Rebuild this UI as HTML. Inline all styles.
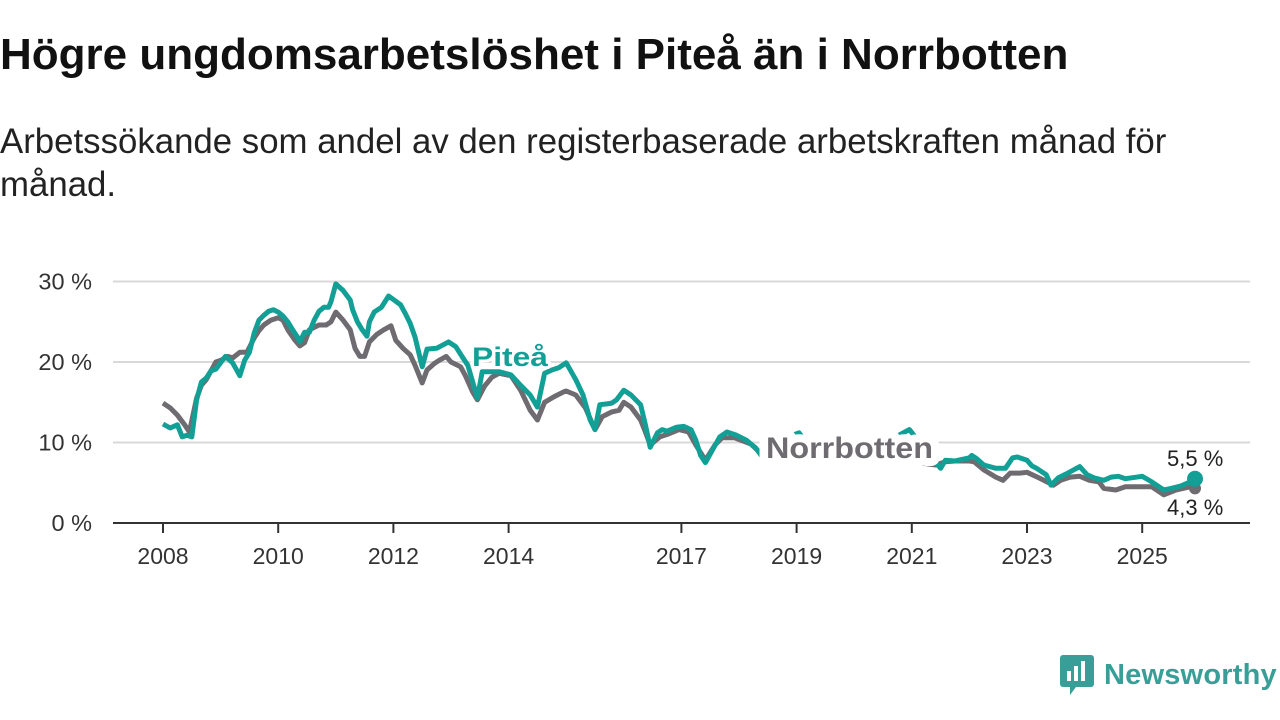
<!DOCTYPE html>
<html><head><meta charset="utf-8"><style>
body{margin:0;width:1280px;height:720px;background:#fff;font-family:"Liberation Sans",sans-serif;overflow:hidden;position:relative}
h1{position:absolute;left:0;top:30px;margin:0;font-size:44px;font-weight:bold;color:#111;white-space:nowrap}
.sub{position:absolute;left:0;top:120px;margin:0;font-size:34.8px;line-height:43px;color:#222;width:1200px}
svg{position:absolute;left:0;top:0}
</style></head><body>
<h1>Högre ungdomsarbetslöshet i Piteå än i Norrbotten</h1>
<p class="sub">Arbetssökande som andel av den registerbaserade arbetskraften månad för månad.</p>
<svg id="c" width="1280" height="720"></svg>
<div style="position:absolute;left:1060px;top:655px;height:40px;display:flex;align-items:center;color:#3a9e98;font-size:29px;font-weight:bold;letter-spacing:0.2px">
<svg width="34" height="40" style="position:static;margin-right:10px"><rect x="0" y="0" width="34" height="32" rx="3" fill="#3a9e98"/><polygon points="10,32 16,32 10,40" fill="#3a9e98"/><rect x="7" y="16" width="4" height="10" fill="#fff"/><rect x="14" y="11" width="4" height="15" fill="#fff"/><rect x="21" y="6" width="4" height="20" fill="#fff"/></svg>Newsworthy</div>
<script>
const ticksY=[0,10,20,30];
const ticksX=[2008,2010,2012,2014,2017,2019,2021,2023,2025];
const piteaMonths=[0,1.5,3,4,5,6,7,8,9,10,11,12,13,14.5,16,17,18,19,20,21,22,23,24,25,26,27,28,28.5,29.5,30.5,31.5,32.5,33.5,34.5,35,36,37.5,39,39.5,40.5,41.5,42.5,43,44,45.5,47,49.5,50.5,51.5,52.5,54,55,57,59.5,61,62.5,63.5,65.5,66.5,70,72.5,74.5,76.5,78,79.5,81,82.5,84,86,87.5,89,90,91,92.5,93.5,94.5,96,97.5,99.5,100.5,101.5,103,104,105,107,108.5,110,111,112,113,114.5,116,117.5,119.5,121.5,123.5,125,128.5,132.5,137,143,149.5,155.5,161,162,163,165,168,168.5,169.5,171,173.5,175.5,177,178,180,181,182,184,185,186.5,188.5,191,192.5,194,196,197.5,199,200.5,204,206,208.5,210,212,214,215];
const piteaValues=[12.3,11.8,12.2,10.7,10.9,10.7,15.3,17.5,18.0,18.9,19.1,19.9,20.7,19.9,18.3,20.2,21.2,23.6,25.2,25.8,26.3,26.5,26.2,25.7,25.0,24.0,23.1,22.5,23.7,23.7,25.2,26.3,26.8,26.8,27.5,29.7,28.9,27.7,26.5,25.0,24.0,23.2,25.0,26.2,26.8,28.2,27.1,26.0,24.8,23.1,19.4,21.6,21.7,22.5,21.9,20.5,19.6,15.5,18.8,18.8,18.4,17.1,15.9,14.4,18.6,19.0,19.3,19.9,17.8,15.9,12.8,11.6,14.7,14.8,14.9,15.3,16.5,15.9,14.7,12.2,9.4,11.2,11.6,11.4,11.9,12.0,11.6,10.3,8.4,7.5,9.1,10.7,11.3,10.9,10.3,9.3,8.1,10.3,11.2,7.6,9.1,9.7,11.6,7.5,6.8,7.8,7.7,8.1,8.4,8.0,7.2,6.8,6.8,8.1,8.2,7.8,7.1,6.8,6.0,4.7,5.6,6.2,7.0,6.0,5.6,5.3,5.7,5.8,5.5,5.8,5.1,4.1,4.3,4.6,5.1,5.5];
const norrMonths=[0,1.5,3,4.5,5.5,7,8,9,10,11,12,13.5,14.5,16,17.5,19,20,21,22.5,24,25,26,27.5,28.5,29.5,30.5,31.5,32.5,34,35,36,37.5,39,40,41,42,43,44.5,46,47.5,48.5,50,51.5,52.5,54,55,56.5,57.5,59,60,62,63,64.5,65.5,67,68.5,70,72.5,74.5,76.5,78,79.5,81.5,83.5,84,86,88,90,91.5,93.5,95,96,97.5,99.5,100.5,101.5,103.5,105.5,107.5,109.5,111,113,115,116.5,119,122.5,125,132.5,143,153.5,161,163,165,168,169,171,173.5,175,176.5,178.5,180,182.5,185.5,187,189,191,193,195,196,198.5,200.5,203.5,206,208.5,211,214,215];
const norrValues=[14.9,14.3,13.4,12.2,11.3,15.5,17.1,17.8,18.9,20.0,20.2,20.7,20.5,21.2,21.2,23.0,23.9,24.6,25.2,25.5,25.2,24.0,22.7,22.0,22.4,24.0,24.3,24.6,24.6,25.0,26.2,25.2,24.0,21.7,20.7,20.7,22.5,23.4,24.0,24.5,22.7,21.7,20.9,19.6,17.4,19.0,19.8,20.2,20.7,20.0,19.4,18.3,16.3,15.3,17.0,18.1,18.6,18.3,16.5,14.0,12.8,15.0,15.7,16.3,16.4,15.9,14.3,11.6,13.2,13.8,14.0,15.0,14.4,12.8,11.3,9.7,10.7,11.1,11.6,11.3,9.7,7.8,9.7,10.6,10.6,9.8,8.4,8.4,8.1,7.8,7.2,7.6,7.7,7.7,7.6,6.6,5.7,5.3,6.2,6.2,6.3,5.6,4.7,5.3,5.7,5.8,5.3,5.1,4.3,4.1,4.5,4.5,4.5,3.5,4.1,4.5,4.3];
const NS='http://www.w3.org/2000/svg';
const svg=document.getElementById('c');
const X0=113,X1=1250;
const yS=v=>523-v*8.05;
const xYear=y=>163+(y-2008)*57.6;
const xM=m=>163+m*4.8;
function el(t,a,p){const e=document.createElementNS(NS,t);for(const k in a)e.setAttribute(k,a[k]);(p||svg).appendChild(e);return e;}
ticksY.forEach(t=>{
  if(t>0){const g=el('line',{x1:X0,x2:X1,y1:yS(t),y2:yS(t),stroke:'#d9d9d9','stroke-width':2});
  
  }
  const tx=el('text',{x:92,y:yS(t)+8,'text-anchor':'end','font-size':23.5,fill:'#333'});
  tx.textContent=t+' %';
  
  
});
const ax=el('line',{x1:X0,x2:X1,y1:523,y2:523,stroke:'#333','stroke-width':2});


ticksX.forEach(t=>{
  const x=xYear(t);
  el('line',{x1:x,x2:x,y1:523,y2:533,stroke:'#333','stroke-width':2});
  const tx=el('text',{x:x,y:564,'text-anchor':'middle','font-size':23,fill:'#333'});
  tx.textContent=t;
  
  
});
function line(ms,vs,col,name){
  const d=ms.map((m,i)=>(i?'L':'M')+xM(m).toFixed(1)+','+yS(vs[i]).toFixed(1)).join('');
  const p=el('path',{d:d,fill:'none',stroke:col,'stroke-width':5,'stroke-linejoin':'round'});
  
  
  return p;
}
line(norrMonths,norrValues,'#6e6b71','norrbotten-line');
line(piteaMonths,piteaValues,'#12a096','pitea-line');
const n=norrMonths.length-1,p=piteaMonths.length-1;
const d1=el('circle',{cx:xM(norrMonths[n]),cy:yS(norrValues[n]),r:6,fill:'#6e6b71'});


const d2=el('circle',{cx:xM(piteaMonths[p]),cy:yS(piteaValues[p]),r:8,fill:'#12a096'});


function lab(txt,x,y,col,size,bold,name,w,sw){
  const a={x:x,y:y,'font-size':size,'font-weight':bold?'bold':'normal',fill:col,stroke:'#fff','stroke-width':sw,'paint-order':'stroke','stroke-linejoin':'round'};
  if(w){a.textLength=w;a.lengthAdjust='spacingAndGlyphs';}
  const t=el('text',a);
  t.textContent=txt;
  
  
}
lab('Piteå',472,366,'#12a096',27,true,'pitea-label',76,6);
lab('Norrbotten',766,458,'#6e6b71',30,true,'norrbotten-label',167,16);
lab('5,5 %',1167,466,'#222',22,false,'pitea-end-value',0,6);
lab('4,3 %',1167,515,'#222',22,false,'norrbotten-end-value',0,6);
</script>
</body></html>
